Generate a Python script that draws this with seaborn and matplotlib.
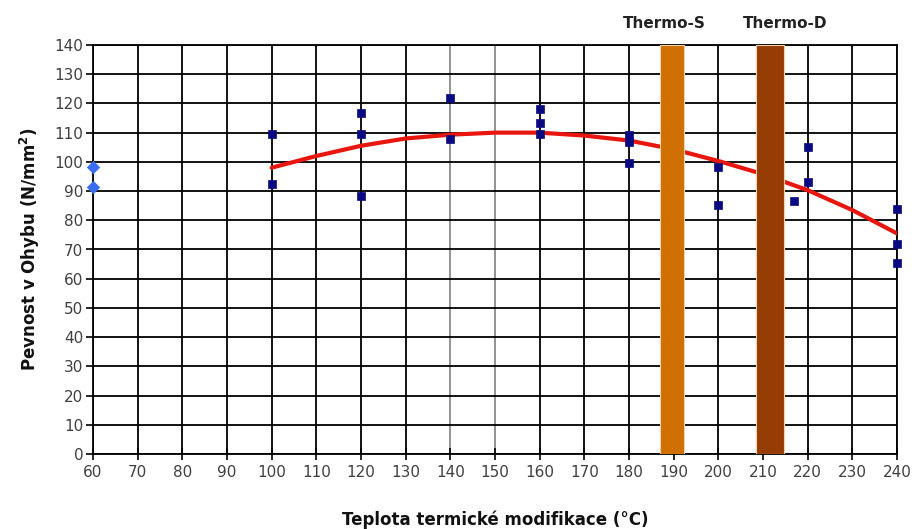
import numpy as np
import pandas as pd
import matplotlib
matplotlib.use("Agg")
import matplotlib.pyplot as plt
import seaborn as sns

# ---- data ----
temps = [100, 100, 120, 120, 120, 140, 140, 160, 160, 160, 180, 180, 180,
         200, 200, 217, 220, 220, 240, 240, 240]
strength = [109.6, 92.5, 116.8, 109.6, 88.4, 122.0, 107.9, 118.0, 113.4, 109.6,
            109.2, 106.8, 99.7, 98.3, 85.3, 86.5, 105.1, 93.2, 83.9, 71.9, 65.4]

ref_temps = [60, 60]
ref_strength = [98.3, 91.4]

trend_temps = [100, 110, 120, 130, 140, 150, 160, 170, 180, 190, 200, 210, 220, 230, 240]
trend_vals = [98.0, 102.0, 105.5, 108.0, 109.3, 110.0, 110.0, 109.0, 107.3, 104.3,
              100.3, 95.8, 90.3, 83.5, 75.5]

band_names = ["Thermo-S", "Thermo-D"]
band_lo = [187.0, 208.5]
band_hi = [192.3, 214.7]
band_colors = ["#CF7000", "#963C05"]

x_ticks = list(range(60, 241, 10))
y_ticks = list(range(0, 141, 10))

xlabel = "Teplota termické modifikace (°C)"
ylabel = "Pevnost v Ohybu (N/mm$\\mathbf{^2}$)"

# ---- plotting ----
sns.set_theme(style="white")
plt.rcParams["font.family"] = ["DejaVu Sans"]

fig = plt.figure(figsize=(9.15, 5.29), dpi=100)
ax = fig.add_axes([93 / 915, 75 / 529, 804 / 915, 409 / 529])

df_main = pd.DataFrame({"t": temps, "s": strength})
df_ref = pd.DataFrame({"t": ref_temps, "s": ref_strength})
df_trend = pd.DataFrame({"t": trend_temps, "s": trend_vals})

sns.lineplot(data=df_trend, x="t", y="s", ax=ax, color="#E8160E", linewidth=3.0,
             zorder=3, legend=False)
sns.scatterplot(data=df_main, x="t", y="s", ax=ax, marker="s", s=30,
                color="#0A0A80", edgecolor="#0A0A80", linewidth=0.5,
                zorder=5, clip_on=False, legend=False)
sns.scatterplot(data=df_ref, x="t", y="s", ax=ax, marker="D", s=40,
                color="#3A6CF5", edgecolor="#3A6CF5", linewidth=0.5,
                zorder=5, clip_on=False, legend=False)

for name, lo, hi, c in zip(band_names, band_lo, band_hi, band_colors):
    ax.axvspan(lo, hi, ymin=0, ymax=1, facecolor=c, edgecolor="#F6D2A8",
               linewidth=0.8, zorder=4)

# band labels above the plot
label_x = [188.0, 214.9]
for name, lx in zip(band_names, label_x):
    ax.text(lx, 1.035, name, transform=ax.get_xaxis_transform(), ha="center",
            va="bottom", fontsize=11, fontweight="bold", color="#222222")

ax.set_xlim(60, 240)
ax.set_ylim(0, 140)
ax.set_xticks(x_ticks)
ax.set_yticks(y_ticks)
ax.set_xticklabels([str(v) for v in x_ticks])
ax.set_yticklabels([str(v) for v in y_ticks])

ax.grid(True, color="black", linewidth=1.3, zorder=1)
ax.set_axisbelow(True)
for i, gl in enumerate(ax.get_xgridlines()):
    if x_ticks[i] in (140, 150):
        gl.set_color("#8A8A8A")

for sp in ax.spines.values():
    sp.set_visible(True)
    sp.set_color("black")
    sp.set_linewidth(1.3)

ax.tick_params(axis="y", direction="out", length=5, width=1.2, color="black",
               labelsize=11, labelcolor="#404040", pad=2, left=True)
ax.tick_params(axis="x", direction="inout", length=8, width=1.2, color="black",
               labelsize=11, labelcolor="#404040", pad=4, bottom=True)

ax.set_xlabel(xlabel, fontsize=12, fontweight="bold", color="#111111", labelpad=22)
ax.set_ylabel(ylabel, fontsize=12, fontweight="bold", color="#111111", labelpad=9)

fig.savefig("out.png", dpi=100, facecolor="white")
